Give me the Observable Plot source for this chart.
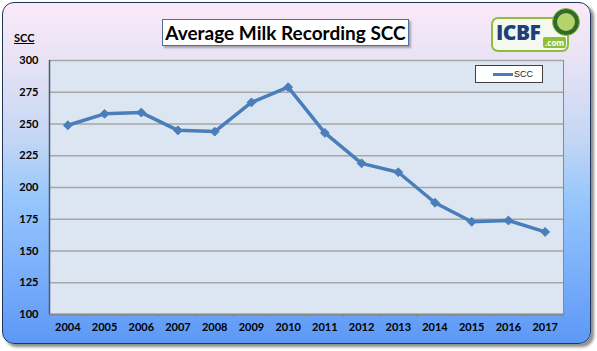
<!DOCTYPE html>
<html><head><meta charset="utf-8">
<script src="https://cdn.jsdelivr.net/npm/d3@7"></script>
<script src="https://cdn.jsdelivr.net/npm/@observablehq/plot@0.6"></script>
<style>
body{margin:0;background:#fff;}
#wrap{position:relative;width:597px;height:351px;overflow:hidden;font-family:Lato,"Open Sans",sans-serif;}
#bg{position:absolute;left:2px;top:2px;width:587px;height:340px;border:1.5px solid #1f355a;border-radius:12px;
background:linear-gradient(to bottom,#fbe9f8 0%,#e6e2f4 18%,#c4d6f4 40%,#96c6fc 58%,#7cb0fa 78%,#5c98f6 100%);
box-shadow:3px 3px 3px rgba(0,0,0,0.45);}
#title{position:absolute;left:162px;top:19px;width:245px;height:25px;background:#fff;border:1px solid #4f6f9f;
box-shadow:2px 2px 2px rgba(0,0,0,0.3);font-weight:bold;font-size:19px;line-height:25px;text-align:center;color:#000;white-space:nowrap;}
#ylab{position:absolute;left:14px;top:31px;font-weight:bold;font-size:11px;text-decoration:underline;color:#000;}
#legend{position:absolute;left:475px;top:65px;width:66px;height:16px;background:#fff;border:1px solid #404040;font-size:9px;}
#legend .ln{position:absolute;left:17px;top:7px;width:20px;height:2.5px;background:#4a7ebb;}
#legend .tx{position:absolute;left:38px;top:2px;line-height:12px;font-family:"Liberation Sans",sans-serif;color:#222;}
#chart{position:absolute;left:0;top:0;}
#logo{position:absolute;left:491px;top:17px;width:74px;height:31px;border:2.5px solid #8fbf3a;border-radius:7px;background:#f4f8ee;}
#logo .t{position:absolute;left:3px;top:0px;font-family:"Open Sans",sans-serif;font-weight:800;font-size:21px;line-height:26px;color:#1d3f7c;letter-spacing:-0.5px;}
#logo .c{position:absolute;left:50px;top:18px;font-family:"Open Sans",sans-serif;font-weight:bold;font-size:8px;color:#fff;background:#8fbf3a;padding:0 2px;line-height:11px;border-radius:2px;}
#circ{position:absolute;left:552px;top:8px;width:26px;height:26px;border-radius:50%;background:#2f6a2a;border:1.5px solid #8fbf3a;}
#circ .i{position:absolute;left:4px;top:4px;width:18px;height:18px;border-radius:50%;background:#b5d36a;}
</style></head>
<body>
<div id="wrap">
  <div id="bg"></div>
  <div id="title">Average Milk Recording SCC</div>
  <div id="ylab">SCC</div>
  <div id="logo"><div class="t">ICBF</div><div class="c">.com</div></div>
  <div id="circ"><div class="i"></div></div>
  <div id="chart"></div>
  <div id="legend"><div class="ln"></div><div class="tx">SCC</div></div>
</div>
<script>
const years = [2004,2005,2006,2007,2008,2009,2010,2011,2012,2013,2014,2015,2016,2017];
const scc = [249,258,259,245,244,267,279,243,219,212,188,173,174,165];
const yTicks = [100,125,150,175,200,225,250,275,300];

const data = years.map((y,i)=>({year:y, scc:scc[i]}));
const edges = years.map(y=>y-0.5).concat([years[years.length-1]+0.5]);

const chart = Plot.plot({
  width:597, height:351,
  marginLeft:49, marginRight:34, marginTop:60, marginBottom:37,
  style:{background:"transparent", fontFamily:"Lato, 'Open Sans', sans-serif", fontSize:"11px", fontWeight:"bold", color:"#000", overflow:"visible"},
  x:{type:"linear", domain:[2003.5,2017.5], label:null},
  y:{domain:[100,300], label:null},
  marks:[
    Plot.frame({fill:"#dce6f2", stroke:"#8a8a8a"}),
    Plot.gridY(yTicks.filter(d=>d>100), {stroke:"#a6a6a6", strokeOpacity:1, strokeWidth:1.5}),
    Plot.axisY(yTicks, {tickSize:0, tickPadding:11, label:null, fill:"#000"}),
    Plot.axisX(edges, {tickSize:3, text:null, stroke:"#8a8a8a"}),
    Plot.axisX(years, {tickSize:0, tickPadding:9, tickFormat:d=>String(d), label:null, fill:"#000"}),
    Plot.ruleY([100], {stroke:"#868686", strokeWidth:2}),
    Plot.ruleX([2003.5], {stroke:"#4a5a70", strokeWidth:1.5}),
    Plot.line(data, {x:"year", y:"scc", stroke:"#4a7ebb", strokeWidth:3.5}),
    Plot.dot(data, {x:"year", y:"scc", symbol:"diamond2", r:4, fill:"#4a7ebb", stroke:"#4a7ebb", strokeWidth:1})
  ]
});
document.getElementById("chart").appendChild(chart);
</script>
</body></html>
